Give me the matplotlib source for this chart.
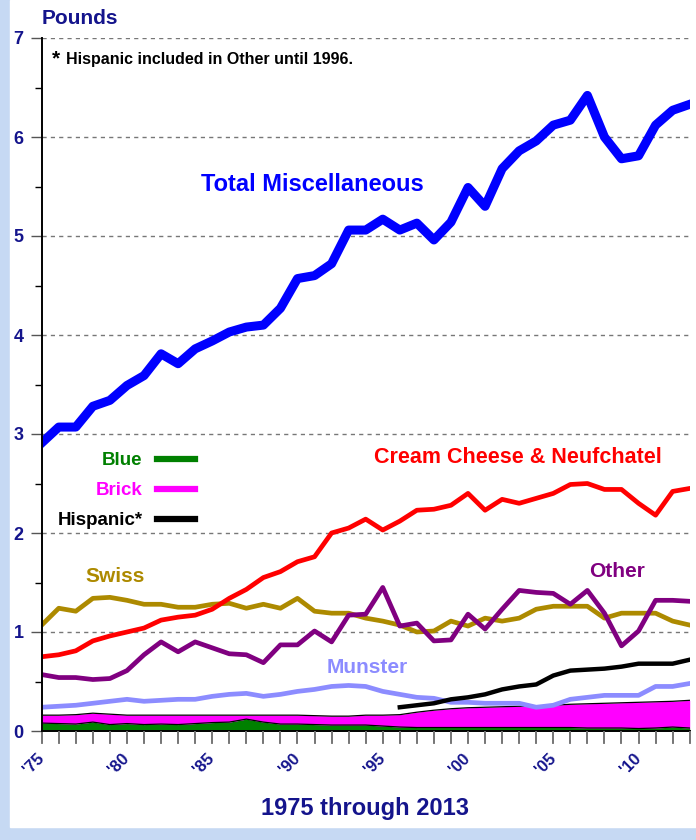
import matplotlib.pyplot as plt
from matplotlib.lines import Line2D
from matplotlib.patches import Rectangle

plt.rcParams['font.family'] = ['Liberation Sans', 'DejaVu Sans']
plt.rcParams['font.weight'] = 'bold'

years = list(range(1975, 2014))
total_misc = [2.91, 3.07, 3.07, 3.28, 3.34, 3.49, 3.59, 3.81, 3.71, 3.86,
              3.94, 4.03, 4.08, 4.10, 4.27, 4.57, 4.60, 4.72, 5.06, 5.06,
              5.17, 5.06, 5.13, 4.96, 5.14, 5.49, 5.30, 5.68, 5.86, 5.96,
              6.12, 6.17, 6.42, 6.00, 5.78, 5.81, 6.12, 6.27, 6.33]
cream_cheese = [0.75, 0.77, 0.81, 0.91, 0.96, 1.00, 1.04, 1.12, 1.15, 1.17,
                1.23, 1.34, 1.43, 1.55, 1.61, 1.71, 1.76, 2.00, 2.05, 2.14,
                2.03, 2.12, 2.23, 2.24, 2.28, 2.40, 2.23, 2.34, 2.30, 2.35,
                2.40, 2.49, 2.50, 2.44, 2.44, 2.30, 2.18, 2.42, 2.45]
swiss = [1.07, 1.24, 1.21, 1.34, 1.35, 1.32, 1.28, 1.28, 1.25, 1.25,
         1.28, 1.29, 1.24, 1.28, 1.24, 1.34, 1.21, 1.19, 1.19, 1.14,
         1.11, 1.07, 1.00, 1.01, 1.11, 1.06, 1.14, 1.11, 1.14, 1.23,
         1.26, 1.26, 1.26, 1.14, 1.19, 1.19, 1.19, 1.11, 1.07]
other = [0.57, 0.54, 0.54, 0.52, 0.53, 0.61, 0.77, 0.90, 0.80, 0.90,
         0.84, 0.78, 0.77, 0.69, 0.87, 0.87, 1.01, 0.90, 1.17, 1.18,
         1.45, 1.06, 1.09, 0.91, 0.92, 1.18, 1.03, 1.23, 1.42, 1.40,
         1.39, 1.28, 1.42, 1.19, 0.86, 1.01, 1.32, 1.32, 1.31]
munster = [0.24, 0.25, 0.26, 0.28, 0.30, 0.32, 0.30, 0.31, 0.32, 0.32,
           0.35, 0.37, 0.38, 0.35, 0.37, 0.40, 0.42, 0.45, 0.46, 0.45,
           0.40, 0.37, 0.34, 0.33, 0.29, 0.29, 0.28, 0.28, 0.28, 0.24,
           0.26, 0.32, 0.34, 0.36, 0.36, 0.36, 0.45, 0.45, 0.48]
hispanic_years = list(range(1996, 2014))
hispanic = [0.24, 0.26, 0.28, 0.32, 0.34, 0.37, 0.42, 0.45, 0.47, 0.56,
            0.61, 0.62, 0.63, 0.65, 0.68, 0.68, 0.68, 0.72]
blue = [0.08, 0.075, 0.07, 0.09, 0.065, 0.075, 0.065, 0.07, 0.065, 0.075,
        0.085, 0.09, 0.12, 0.09, 0.07, 0.07, 0.065, 0.06, 0.06, 0.06,
        0.05, 0.04, 0.035, 0.035, 0.035, 0.035, 0.035, 0.035, 0.035, 0.035,
        0.035, 0.035, 0.03, 0.03, 0.03, 0.025, 0.03, 0.04, 0.03]
brick = [0.08, 0.085, 0.095, 0.09, 0.105, 0.085, 0.095, 0.09, 0.095, 0.085,
         0.075, 0.07, 0.04, 0.07, 0.09, 0.09, 0.09, 0.09, 0.09, 0.10,
         0.11, 0.125, 0.155, 0.175, 0.19, 0.20, 0.205, 0.21, 0.215, 0.215,
         0.225, 0.235, 0.245, 0.25, 0.255, 0.265, 0.265, 0.26, 0.28]
tick_labels = {1975: "'75", 1980: "'80", 1985: "'85", 1990: "'90", 1995: "'95",
               2000: "'00", 2005: "'05", 2010: "'10"}

NAVY = '#14148c'
GREEN = '#008000'
MAGENTA = '#ff00ff'
GOLD = '#ad8a00'
PURPLE = '#800080'
MUNSTER = '#8c8cff'

fig = plt.figure(figsize=(6.96, 8.4), dpi=100, facecolor='#c6d9f3')
fig.patches.append(Rectangle((10 / 696, 13 / 840), 686 / 696, 827 / 840,
                             transform=fig.transFigure, color='white', zorder=-10))
ax = fig.add_axes([41.7 / 696, 1 - 731 / 840, 648 / 696, 693 / 840])
ax.set_facecolor('white')

# stacked areas at the bottom
top = [b + r for b, r in zip(blue, brick)]
ax.fill_between(years, 0, blue, color=GREEN, lw=0, zorder=2)
ax.fill_between(years, blue, top, color=MAGENTA, lw=0, zorder=2)
ax.plot(years, blue, color='black', lw=0.9, zorder=3)
ax.plot(years, top, color='black', lw=0.9, zorder=3)

ax.plot(years, munster, color=MUNSTER, lw=3.4, zorder=4)
ax.plot(hispanic_years, hispanic, color='black', lw=3.2, zorder=4)
ax.plot(years, swiss, color=GOLD, lw=3.4, zorder=5)
ax.plot(years, other, color=PURPLE, lw=3.4, zorder=6)
ax.plot(years, cream_cheese, color='#ff0000', lw=3.4, zorder=6)
ax.plot(years, total_misc, color='#0000ff', lw=6.5, zorder=7)

ax.set_xlim(1975, 2013)
ax.set_ylim(0, 7)
ax.set_yticks(range(0, 8))
ax.set_yticks([i + 0.5 for i in range(7)], minor=True)
ax.set_xticks(years)
ax.set_xticklabels([tick_labels.get(y, '') for y in years], rotation=45,
                   rotation_mode='anchor', ha='right', va='center',
                   fontsize=12, color=NAVY, fontweight='bold')
ax.set_yticklabels([str(i) for i in range(8)], fontsize=13, color=NAVY,
                   fontweight='bold')
ax.tick_params(axis='x', length=9, width=1.3, color='#777777', pad=9)
# year tick marks under the axis, one per year
ax.vlines(years, -0.018, 0, transform=ax.get_xaxis_transform(), clip_on=False,
          color='#777777', lw=1.3, zorder=8)
ax.tick_params(axis='y', which='major', length=8, width=1, color='#555555', pad=5)
ax.tick_params(axis='y', which='minor', length=5, width=1, color='black')
ax.yaxis.grid(True, linestyle=(0, (3, 3)), color='#777777', lw=1, zorder=1)
for s in ['top', 'right']:
    ax.spines[s].set_visible(False)
ax.spines['left'].set_linewidth(1.4)
ax.spines['bottom'].set_linewidth(1.4)
ax.spines['left'].set_zorder(8)

# series labels
ax.text(1990.85, 5.52, 'Total Miscellaneous', color='#0000ff', fontsize=17,
        ha='center', va='center', fontweight='bold')
ax.text(2002.9, 2.76, 'Cream Cheese & Neufchatel', color='#ff0000', fontsize=15.5,
        ha='center', va='center', fontweight='bold')
ax.text(2008.75, 1.61, 'Other', color=PURPLE, fontsize=15,
        ha='center', va='center', fontweight='bold')
ax.text(1979.3, 1.56, 'Swiss', color=GOLD, fontsize=15,
        ha='center', va='center', fontweight='bold')
ax.text(1994.1, 0.64, 'Munster', color=MUNSTER, fontsize=15,
        ha='center', va='center', fontweight='bold')

# footnote
ax.text(0.016, 0.984, '*', transform=ax.transAxes, fontsize=15,
        ha='left', va='top', fontweight='bold')
ax.text(0.0375, 0.969, 'Hispanic included in Other until 1996.',
        transform=ax.transAxes, fontsize=11.5, ha='left', va='center',
        fontweight='bold')

handles = [Line2D([], [], color=GREEN, lw=4.5),
           Line2D([], [], color=MAGENTA, lw=4.5),
           Line2D([], [], color='black', lw=4.5)]
leg = ax.legend(handles, ['Blue', 'Brick', 'Hispanic*'], markerfirst=False,
                frameon=False, loc='upper right', bbox_to_anchor=(0.248, 0.4135),
                fontsize=13.5, handlelength=2.0, handletextpad=0.8,
                labelspacing=0.69, borderaxespad=0)
for t, c in zip(leg.get_texts(), [GREEN, MAGENTA, 'black']):
    t.set_color(c)
    t.set_fontweight('bold')

fig.text(42 / 696, 1 - 18 / 840, 'Pounds', color=NAVY, fontsize=15,
         ha='left', va='center', fontweight='bold')
fig.text(365 / 696, 1 - 808 / 840, '1975 through 2013', color=NAVY, fontsize=17,
         ha='center', va='center', fontweight='bold')

fig.savefig('out.png', dpi=100, facecolor=fig.get_facecolor())
